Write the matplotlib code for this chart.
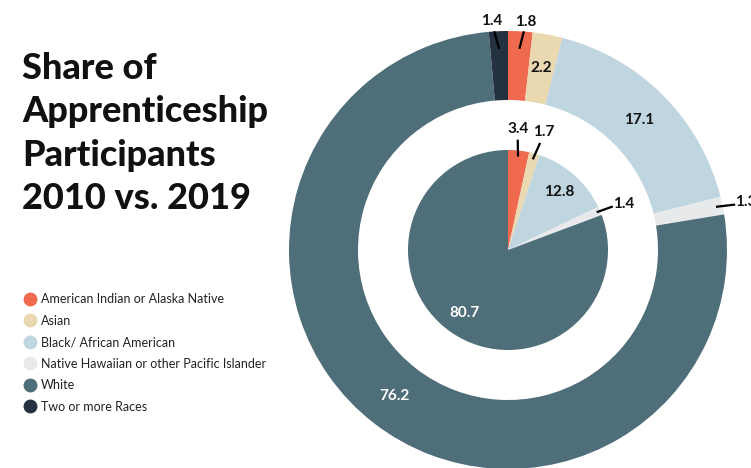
import numpy as np
import matplotlib.pyplot as plt
from matplotlib.lines import Line2D

plt.rcParams['font.family'] = ['Lato', 'DejaVu Sans']

# data
groups = ['American Indian or Alaska Native', 'Asian', 'Black/ African American',
          'Native Hawaiian or other Pacific Islander', 'White', 'Two or more Races']
share_2019 = [1.8, 2.2, 17.1, 1.3, 76.2, 1.4]
share_2010 = [3.4, 1.7, 12.8, 1.4, 80.7]
colors = ['#ef6a4f', '#e9d8b0', '#bfd5df', '#e8e9eb', '#4e6e79', '#243141']

W, H = 751, 468
cx, cy = 508, H - 250
R_out, R_hole, R_in = 219, 150, 100

fig = plt.figure(figsize=(W / 100, H / 100), dpi=100)
ax = fig.add_axes([0, 0, 1, 1])

ax.pie(share_2019, colors=colors, radius=R_out, center=(cx, cy), startangle=90,
       counterclock=False, wedgeprops=dict(width=R_out - R_hole, linewidth=0))
ax.pie(share_2010, colors=colors[:5], radius=R_in, center=(cx, cy), startangle=90,
       counterclock=False, wedgeprops=dict(linewidth=0))
ax.set_xlim(0, W)
ax.set_ylim(0, H)
ax.set_aspect('equal')
ax.axis('off')


def pos(angle, r):
    return cx + r * np.sin(angle), cy + r * np.cos(angle)


def label_ring(vals, r_lab, R, inside_min, white_idx, line_r, text_r, right, shift):
    cum = 0
    for i, v in enumerate(vals):
        mid = np.deg2rad((cum + v / 2) * 3.6)
        cum += v
        txt = f'{v:.1f}'
        if v >= inside_min:
            x, y = pos(mid, r_lab)
            ax.text(x, y, txt, ha='center', va='center', fontsize=11, fontweight='bold',
                    color='white' if i == white_idx else '#111111')
        elif i in right:
            dx, dy = right[i]
            x0, y0 = pos(mid, 0.975 * R)
            ax.plot([x0, x0 + dx], [y0, y0 + dy], color='black', lw=1.6)
            ax.text(x0 + dx + 1, y0 + dy + 3, txt, ha='left', va='center', fontsize=11,
                    fontweight='bold', color='#111111')
        else:
            s = shift.get(i, 0)
            x0, y0 = pos(mid, line_r[0] * R)
            x1, y1 = pos(mid, line_r[1] * R)
            ax.plot([x0, x1 + s * 0.7], [y0, y1], color='black', lw=1.6,
                    solid_capstyle='butt')
            xt, yt = pos(mid, text_r * R)
            ax.text(xt + s, yt, txt, ha='center', va='center', fontsize=11,
                    fontweight='bold', color='#111111')


label_ring(share_2019, 185, R_out, 2.0, 4, (0.92, 1.0), 1.045,
           {3: (17, 2)}, {0: 5, 5: -6})
label_ring(share_2010, 77, R_in, 5.0, 4, (0.94, 1.11), 1.22,
           {3: (14, 5)}, {0: -3, 1: 4})

# title
fig.text(22 / W, 1 - 52 / H, 'Share of\nApprenticeship\nParticipants\n2010 vs. 2019',
         ha='left', va='top', fontsize=26, fontweight='black', color='#111111',
         linespacing=1.38)

handles = [Line2D([], [], marker='o', linestyle='none', markersize=10,
                  markerfacecolor=c, markeredgewidth=0) for c in colors]
fig.legend(handles, groups, loc='upper left', bbox_to_anchor=(14 / W, 1 - 287 / H),
           frameon=False, fontsize=9, labelspacing=0.76, handletextpad=0.15,
           handlelength=1.5, borderpad=0, labelcolor='#222222')

fig.savefig('out.png', dpi=100)
